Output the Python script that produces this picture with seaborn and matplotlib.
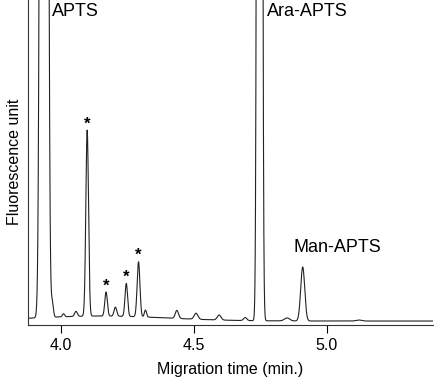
import numpy as np
import pandas as pd
import matplotlib
matplotlib.use("Agg")
import matplotlib.pyplot as plt
import seaborn as sns

# peak table (time in min, height, width in min)
peak_time = [3.937, 3.968, 4.010, 4.057, 4.099, 4.170, 4.205, 4.246, 4.292, 4.318,
             4.436, 4.508, 4.595, 4.693, 4.747, 4.850, 4.909, 5.120, 4.150]
peak_height = [6000, 14, 3, 5, 186, 24, 9, 33, 55, 7,
               8, 6, 5, 3, 6000, 3, 54, 1, 5]
peak_width = [0.008, 0.004, 0.004, 0.005, 0.005, 0.0048, 0.005, 0.0048, 0.0052, 0.004,
              0.006, 0.007, 0.007, 0.006, 0.0055, 0.01, 0.0075, 0.01, 0.25]

star_peaks = [4.099, 4.170, 4.246, 4.292]
labels = ["APTS", "Ara-APTS", "Man-APTS"]
label_x = [3.966, 4.776, 4.875]
label_y = [318, 318, 74]

t = np.arange(3.86, 5.41, 0.0005)
signal = np.zeros_like(t)
for c, h, w in zip(peak_time, peak_height, peak_width):
    signal += h * np.exp(-0.5 * ((t - c) / w) ** 2)
df = pd.DataFrame({"time": t, "signal": signal})

sns.set_style("ticks")
plt.rcParams["font.family"] = ["Liberation Sans", "DejaVu Sans"]
plt.rcParams["text.color"] = "black"
plt.rcParams["axes.labelcolor"] = "black"
plt.rcParams["xtick.color"] = "black"

fig = plt.figure(figsize=(4.35, 3.8), dpi=100)
ax = fig.add_axes([0.064, 0.146, 0.931, 0.854])
sns.lineplot(data=df, x="time", y="signal", ax=ax, color="#222222", linewidth=0.8)

ax.set_xlim(3.876, 5.398)
ax.set_ylim(-3.5, 321)
ax.set_xticks([4.0, 4.5, 5.0])
ax.set_xticklabels(["4.0", "4.5", "5.0"])
ax.set_yticks([])
ax.tick_params(axis="x", labelsize=11.5, length=6, width=0.8, pad=4)
ax.set_xlabel("Migration time (min.)", fontsize=11.5, labelpad=6)
ax.set_ylabel("Fluorescence unit", fontsize=11.5, labelpad=4)
sns.despine(ax=ax)
for s in ["left", "bottom"]:
    ax.spines[s].set_linewidth(0.8)
    ax.spines[s].set_color("#333333")

for pt in star_peaks:
    h = peak_height[peak_time.index(pt)] + 3
    ax.text(pt, h, "*", ha="center", va="bottom", fontsize=12, fontweight="bold")

for lab, x, y in zip(labels, label_x, label_y):
    ax.text(x, y, lab, ha="left", va="top" if y > 300 else "center", fontsize=13)

fig.savefig("out.png", dpi=100)
